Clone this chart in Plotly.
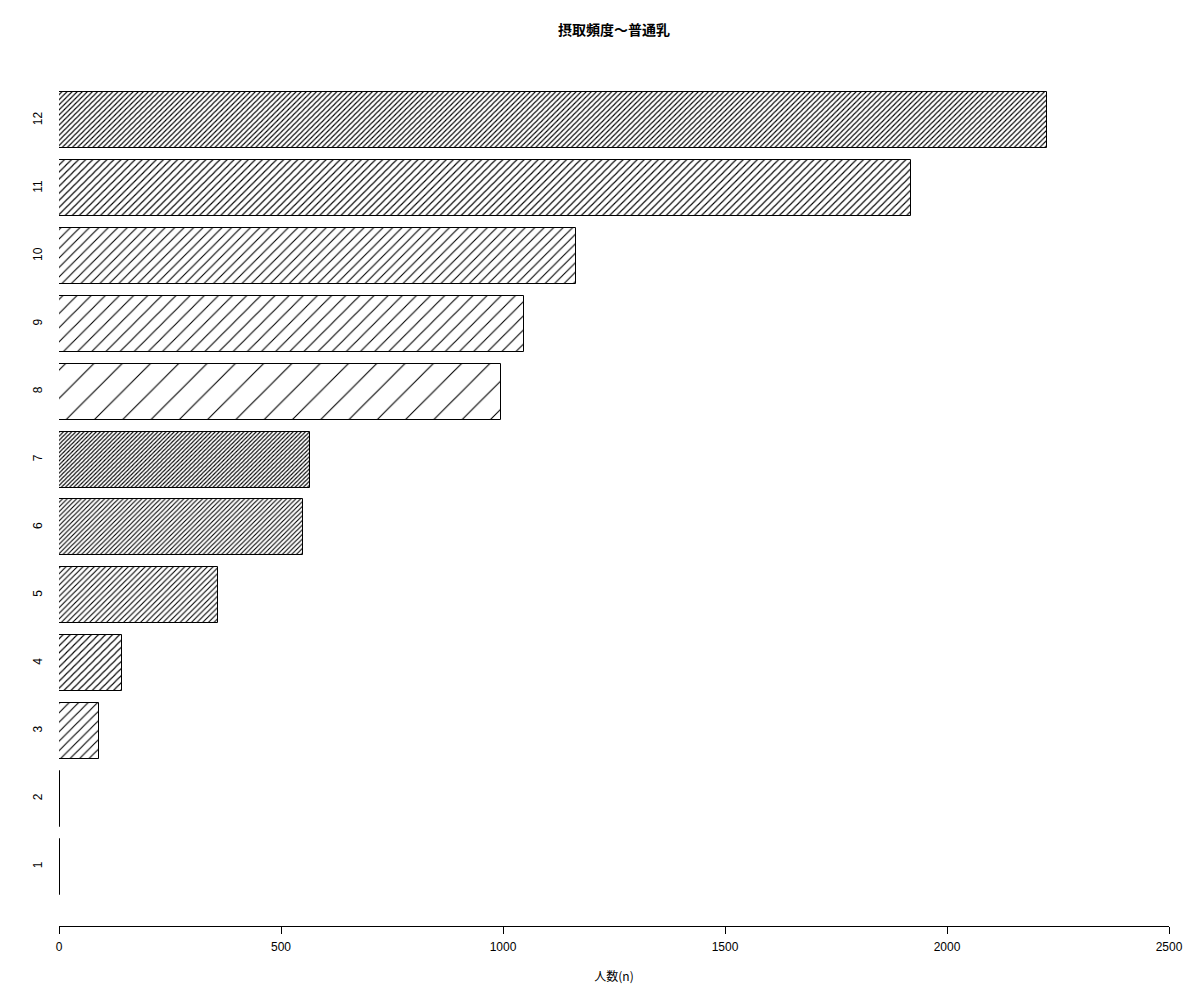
import plotly.graph_objects as go

categories = ["1", "2", "3", "4", "5", "6", "7", "8", "9", "10", "11", "12"]
values = [2, 2, 91, 141, 357, 549, 566, 996, 1048, 1165, 1920, 2225]
x_ticks = [0, 500, 1000, 1500, 2000, 2500]

# hatch spacing (px) per bar, mimicking R density recycling
hatch_size = [20, 10, 6.7, 5, 4, 3.3, 2.9, 20, 10, 6.7, 5, 3.6]
hatch_solid = [min(0.9, 1.1 / s) for s in hatch_size]

ypos = list(range(1, len(categories) + 1))

fig = go.Figure()
fig.add_trace(go.Bar(
    x=values,
    y=ypos,
    orientation="h",
    width=0.825,
    marker=dict(
        color="white",
        line=dict(color="black", width=1),
        pattern=dict(shape="/", size=hatch_size, solidity=hatch_solid,
                     fgcolor="black", bgcolor="white", fgopacity=1, fillmode="overlay"),
    ),
    hoverinfo="x+y",
))

font_main = "Liberation Sans, Arial, Noto Sans CJK JP, sans-serif"
fig.update_layout(
    width=1200, height=1000,
    paper_bgcolor="white", plot_bgcolor="white",
    margin=dict(l=51, r=39, t=51, b=82),
    showlegend=False,
    title=dict(text="<b>摂取頻度～普通乳</b>", x=0.5, xref="paper", y=1 - 22 / 1000,
               yanchor="middle", font=dict(family="Noto Sans CJK JP, sans-serif", size=14, color="black")),
    font=dict(family=font_main, size=12, color="black"),
    bargap=0,
)
fig.update_xaxes(
    range=[0, 2500], tickvals=x_ticks, ticktext=[str(v) for v in x_ticks],
    showline=True, linecolor="black", linewidth=1, ticks="outside", ticklen=7,
    tickcolor="black", showgrid=False, zeroline=False, fixedrange=True,
    ticklabelstandoff=3,
    title=dict(text="人数(n)", font=dict(family="Noto Sans CJK JP, sans-serif", size=12), standoff=19),
    tickfont=dict(size=12),
)
fig.update_yaxes(
    range=[0.125, 12.905], tickvals=ypos, ticktext=categories, tickangle=-90,
    showline=False, showgrid=False, zeroline=False, ticks="", fixedrange=True,
    ticklabelstandoff=14, tickfont=dict(size=12),
)
fig.write_html("out.html")
